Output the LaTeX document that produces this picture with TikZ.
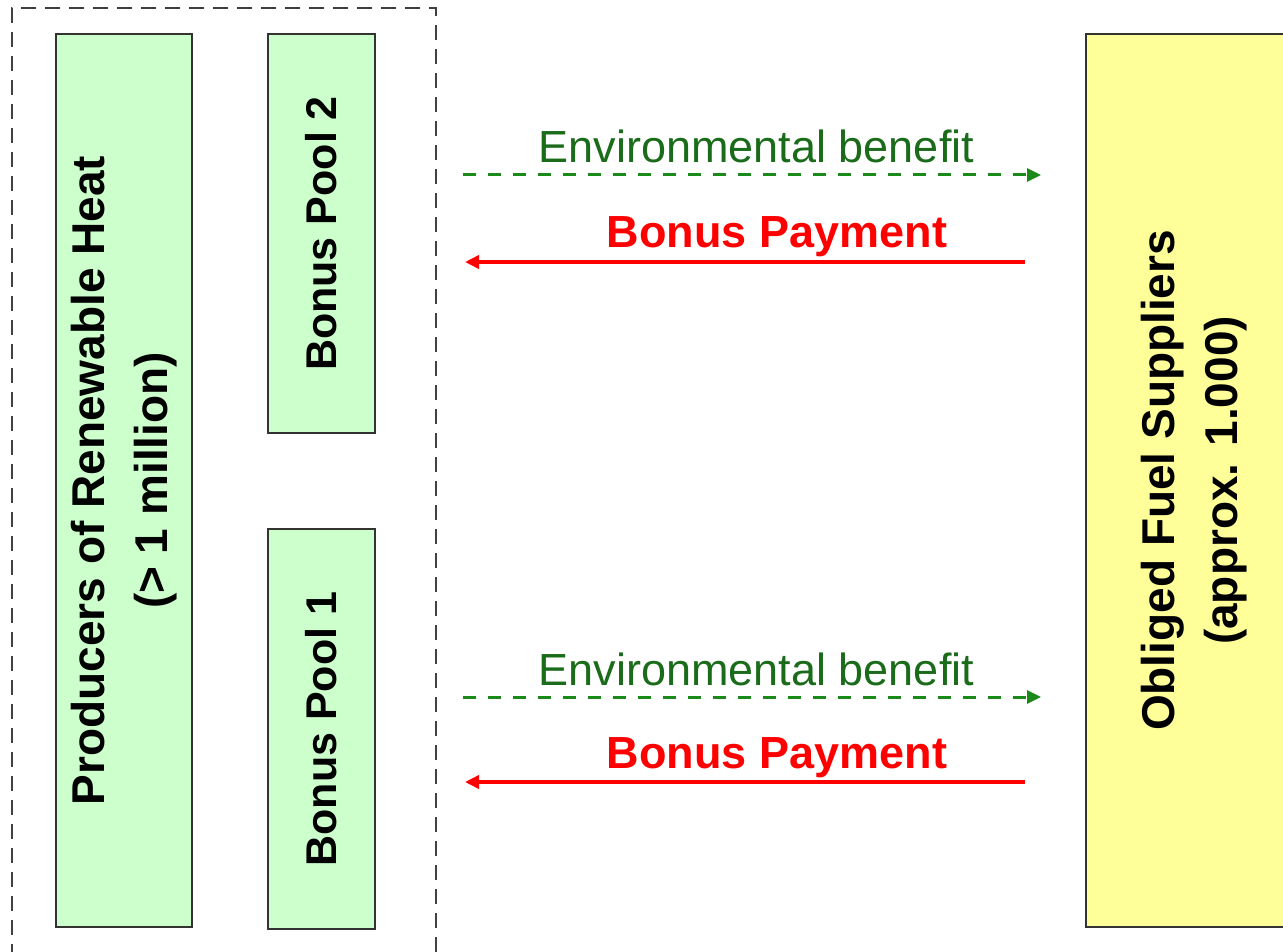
\documentclass[tikz,border=0pt]{standalone}
\usepackage{fontspec}
\setmainfont{Liberation Sans}
\usetikzlibrary{arrows.meta}
\definecolor{greenfill}{HTML}{CCFFCC}
\definecolor{yellowfill}{HTML}{FFFF99}
\definecolor{boxline}{HTML}{333333}
\definecolor{envtextc}{HTML}{1A6B1A}
\definecolor{envlinec}{HTML}{1A8A1A}
\definecolor{payred}{HTML}{FF0000}
\begin{document}
\begin{tikzpicture}[x=1pt,y=-1pt,
  box/.style={draw=boxline, line width=2pt, inner sep=0pt, align=center,
    font=\bfseries\fontsize{46}{63}\selectfont},
  greenbox/.style={box, fill=greenfill},
  yellowbox/.style={box, fill=yellowfill},
  poolbox/.style={greenbox, font=\bfseries\fontsize{43}{52}\selectfont},
  envarrow/.style={draw=envlinec, line width=3pt, dash pattern=on 13pt off 12pt,
    -{Triangle[length=14pt,width=13pt]}},
  payarrow/.style={draw=payred, line width=3.6pt, -{Triangle[length=14pt,width=13pt]}},
  envlabel/.style={text=envtextc, inner sep=0pt, anchor=base, font=\fontsize{45}{54}\selectfont},
  paylabel/.style={text=payred, inner sep=0pt, anchor=base, font=\bfseries\fontsize{45}{54}\selectfont}
]
\useasboundingbox (0,0) rectangle (1283,952);
% dashed group frame (bottom edge lies below the page)
\node[draw=black!75, line width=2.2pt, dash pattern=on 15pt off 9pt, inner sep=0pt,
  minimum width=424pt, minimum height=1000pt, anchor=north west] (group) at (11,7) {};
% boxes
\node[greenbox, rotate=90, minimum width=893pt, minimum height=136pt] (prod) at (124,480.5)
  {Producers of Renewable Heat\\(> 1 million)};
\node[poolbox, rotate=90, minimum width=399pt, minimum height=107pt] (pool2) at (321.5,233.5)
  {Bonus Pool 2};
\node[poolbox, rotate=90, minimum width=400pt, minimum height=107pt] (pool1) at (321.5,729)
  {Bonus Pool 1};
\node[yellowbox, rotate=90, minimum width=893pt, minimum height=216pt] (obl) at (1194,480.5)
  {Obliged Fuel Suppliers\\(approx. 1.000)};
% arrow end points
\coordinate (e2s) at (463,175);
\coordinate (e2e) at (1041,175);
\coordinate (b2s) at (1025,262);
\coordinate (b2e) at (465,262);
\coordinate (e1s) at (463,697);
\coordinate (e1e) at (1041,697);
\coordinate (b1s) at (1025,782);
\coordinate (b1e) at (465,782);
% upper pair
\draw[envarrow] (e2s) -- (e2e);
\node[envlabel] (e2t) at (756.5,163) {Environmental benefit};
\draw[payarrow] (b2s) -- (b2e);
\node[paylabel] (b2t) at (777,248) {Bonus Payment};
% lower pair
\draw[envarrow] (e1s) -- (e1e);
\node[envlabel] (e1t) at (756.5,685) {Environmental benefit};
\draw[payarrow] (b1s) -- (b1e);
\node[paylabel] (b1t) at (777,768) {Bonus Payment};
\end{tikzpicture}
\end{document}
